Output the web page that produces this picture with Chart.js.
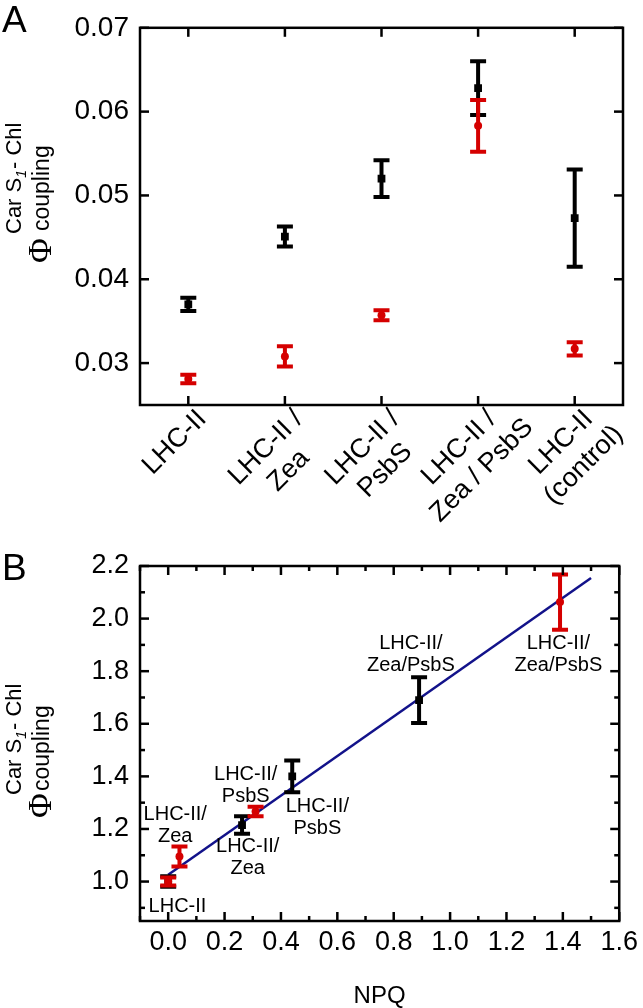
<!DOCTYPE html>
<html>
<head>
<meta charset="utf-8">
<script src="https://cdn.jsdelivr.net/npm/chart.js@4.4.1/dist/chart.umd.min.js"></script>
<style>
  html, body { margin:0; padding:0; background:#fff; }
  #wrap { position:relative; width:643px; height:1008px; }
  canvas { position:absolute; left:0; }
  #cA { top:0; }
  #cB { top:535px; }
</style>
</head>
<body>
<div id="wrap">
  <canvas id="cA" width="643" height="535"></canvas>
  <canvas id="cB" width="643" height="473"></canvas>
</div>
<script>
// ---- panel A data ----
const samplesA = [["LHC-II"], ["LHC-II /", "Zea"], ["LHC-II /", "PsbS"], ["LHC-II /", "Zea / PsbS"], ["LHC-II", "(control)"]];
const blackA    = [0.0370, 0.0451, 0.0520, 0.0628, 0.0473];
const blackAErr = [0.0008, 0.0012, 0.0022, 0.0032, 0.0058];
const redA      = [0.0281, 0.0308, 0.0357, 0.0583, 0.0317];
const redAErr   = [0.0005, 0.0012, 0.0006, 0.0031, 0.0008];

// ---- panel B data ----
const npqBlack    = [0.0, 0.262, 0.44, 0.89];
const phiBlack    = [1.0, 1.215, 1.40, 1.69];
const phiBlackErr = [0.02, 0.033, 0.06, 0.087];
const npqRed      = [0.0, 0.04, 0.31, 1.39];
const phiRed      = [1.0, 1.095, 1.266, 2.063];
const phiRedErr   = [0.015, 0.038, 0.018, 0.105];
const fitNpq = [0, 1.5];
const fitPhi = [1.026, 2.154];
const nameText = [["LHC-II"], ["LHC-II/", "Zea"], ["LHC-II/", "PsbS"], ["LHC-II/", "Zea"], ["LHC-II/", "PsbS"], ["LHC-II/", "Zea/PsbS"], ["LHC-II/", "Zea/PsbS"]];
const nameNpq  = [0.033, 0.025, 0.275, 0.282, 0.529, 0.861, 1.384];
const namePhi  = [0.905, 1.214, 1.366, 1.093, 1.245, 1.865, 1.865];

const FONT = '"Liberation Sans", Arial, sans-serif';
const RED = "#d50000";
const NAVY = "#12128a";

function errorBars(chart, idx){
  const ds = chart.data.datasets[idx];
  if(!ds.errors) return;
  const meta = chart.getDatasetMeta(idx);
  const ys = chart.scales.y;
  const ctx = chart.ctx;
  ctx.save();
  ctx.strokeStyle = ds.backgroundColor;
  ctx.lineWidth = 4;
  meta.data.forEach((pt, i) => {
    const d = ds.data[i];
    const v = typeof d === "number" ? d : d.y;
    const t = ys.getPixelForValue(v + ds.errors[i]);
    const b = ys.getPixelForValue(v - ds.errors[i]);
    ctx.beginPath();
    ctx.moveTo(pt.x, t); ctx.lineTo(pt.x, b);
    ctx.moveTo(pt.x - 8, t); ctx.lineTo(pt.x + 8, t);
    ctx.moveTo(pt.x - 8, b); ctx.lineTo(pt.x + 8, b);
    ctx.stroke();
  });
  ctx.restore();
}

function line(ctx, x1, y1, x2, y2){ ctx.beginPath(); ctx.moveTo(x1, y1); ctx.lineTo(x2, y2); ctx.stroke(); }

function frameAndTicks(chart, xCategory){
  const ctx = chart.ctx;
  const {left, right, top, bottom} = chart.chartArea;
  ctx.save();
  ctx.strokeStyle = "#000";
  ctx.lineWidth = 2.5;
  ctx.strokeRect(left, top, right - left, bottom - top);
  const ys = chart.scales.y, xs = chart.scales.x;
  ys.ticks.forEach((t, i) => {
    const y = ys.getPixelForTick(i);
    const len = t.label ? 9 : 5;
    line(ctx, left, y, left + len, y);
    line(ctx, right, y, right - len, y);
  });
  if(xCategory){
    chart.data.labels.forEach((l, i) => {
      const x = xs.getPixelForValue(i);
      line(ctx, x, bottom, x, bottom - 9);
      line(ctx, x, top, x, top + 9);
    });
  } else {
    xs.ticks.forEach((t, i) => {
      const x = xs.getPixelForTick(i);
      const len = t.label ? 9 : 5;
      line(ctx, x, bottom, x, bottom - len);
      line(ctx, x, top, x, top + len);
    });
  }
  ctx.restore();
}

function yTitle(ctx, o){
  ctx.save();
  ctx.fillStyle = "#000";
  ctx.rotate(-Math.PI / 2);
  ctx.textAlign = "left";
  ctx.textBaseline = "alphabetic";
  ctx.font = o.phiSize + 'px "Liberation Serif", "DejaVu Serif", serif';
  ctx.fillText("Φ", -o.phiY, o.phiBase);
  ctx.font = "22px " + FONT;
  let a = -o.supY;
  ctx.fillText("Car S", a, o.supBase);
  a += ctx.measureText("Car S").width;
  ctx.font = "italic 14px " + FONT;
  ctx.fillText("1", a, o.supBase + 5);
  a += ctx.measureText("1").width + 1;
  ctx.font = "22px " + FONT;
  ctx.fillText("- Chl", a, o.supBase);
  ctx.font = "23px " + FONT;
  ctx.fillText("coupling", -o.subY, o.subBase);
  ctx.restore();
}

const pluginA = {
  id: "panelA",
  beforeDatasetDraw(chart, args){ errorBars(chart, args.index); },
  afterDraw(chart){
    const ctx = chart.ctx;
    frameAndTicks(chart, true);
    const xs = chart.scales.x;
    const bottom = chart.chartArea.bottom;
    ctx.save();
    ctx.fillStyle = "#000";
    ctx.font = "27px " + FONT;
    chart.data.labels.forEach((lines, i) => {
      const x = xs.getPixelForValue(i);
      ctx.save();
      ctx.translate(x + 14, bottom + 10);
      ctx.rotate(-Math.PI / 4);
      const w0 = ctx.measureText(lines[0]).width;
      ctx.textAlign = "center";
      ctx.textBaseline = "middle";
      lines.forEach((s, k) => ctx.fillText(s, -w0 / 2, k * 32));
      ctx.restore();
    });
    ctx.font = "37px " + FONT;
    ctx.textAlign = "left";
    ctx.textBaseline = "alphabetic";
    ctx.fillText("A", 2, 32);
    ctx.restore();
    yTitle(ctx, {phiSize:34, phiY:263, phiBase:51, supY:234, supBase:21, subY:231, subBase:49});
  }
};

const pluginB = {
  id: "panelB",
  beforeDatasetDraw(chart, args){ errorBars(chart, args.index); },
  afterDraw(chart){
    const ctx = chart.ctx;
    frameAndTicks(chart, false);
    const xs = chart.scales.x, ys = chart.scales.y;
    ctx.save();
    ctx.fillStyle = "#000";
    ctx.font = "20px " + FONT;
    ctx.textAlign = "center";
    ctx.textBaseline = "middle";
    nameText.forEach((lines, i) => {
      const cx = xs.getPixelForValue(nameNpq[i]);
      const cy = ys.getPixelForValue(namePhi[i]);
      lines.forEach((s, k) => ctx.fillText(s, cx, cy + (k - (lines.length - 1) / 2) * 22));
    });
    const {left, right} = chart.chartArea;
    ctx.font = "24px " + FONT;
    ctx.textBaseline = "alphabetic";
    ctx.fillText("NPQ", (left + right) / 2, 468);
    ctx.font = "37px " + FONT;
    ctx.textAlign = "left";
    ctx.fillText("B", 2, 45);
    ctx.restore();
    yTitle(ctx, {phiSize:34, phiY:283, phiBase:51, supY:260, supBase:21, subY:256, subBase:49});
  }
};

new Chart(document.getElementById("cA"), {
  type: "line",
  data: {
    labels: samplesA,
    datasets: [
      {label:"black", data: blackA, errors: blackAErr, showLine:false, pointStyle:"rect", pointRadius:5.5, backgroundColor:"#000", borderColor:"#000", borderWidth:0, order:2},
      {label:"red", data: redA, errors: redAErr, showLine:false, pointStyle:"circle", pointRadius:4, backgroundColor:RED, borderColor:RED, borderWidth:0, order:1},
    ]
  },
  options: {
    responsive:false, animation:false, events:[],
    layout: { padding: { left:0, right:20, top:16, bottom:0 } },
    plugins: { legend:{ display:false }, tooltip:{ enabled:false } },
    scales: {
      x: { offset:true, grid:{ display:false, drawTicks:false }, border:{ display:false }, ticks:{ display:false },
           afterFit: s => { s.height = 130; } },
      y: { min:0.025, max:0.07, grid:{ display:false, drawTicks:false }, border:{ display:false },
           ticks:{ stepSize:0.01, includeBounds:false, color:"#000", padding:11, font:{ family:FONT, size:28 },
                   callback: v => v.toFixed(2) },
           afterFit: s => { s.width = 140; } }
    }
  },
  plugins: [pluginA]
});

new Chart(document.getElementById("cB"), {
  type: "scatter",
  data: {
    datasets: [
      {label:"fit", data: fitNpq.map((x, i) => ({x, y: fitPhi[i]})), showLine:true, pointRadius:0, borderColor:NAVY, borderWidth:2.5, order:3},
      {label:"black", data: npqBlack.map((x, i) => ({x, y: phiBlack[i]})), errors: phiBlackErr, pointStyle:"rect", pointRadius:5.5, backgroundColor:"#000", borderColor:"#000", borderWidth:0, order:2},
      {label:"red", data: npqRed.map((x, i) => ({x, y: phiRed[i]})), errors: phiRedErr, pointStyle:"circle", pointRadius:4, backgroundColor:RED, borderColor:RED, borderWidth:0, order:1},
    ]
  },
  options: {
    responsive:false, animation:false, events:[],
    layout: { padding: { left:0, right:22, top:31, bottom:0 } },
    plugins: { legend:{ display:false }, tooltip:{ enabled:false } },
    scales: {
      x: { type:"linear", min:-0.1, max:1.6, grid:{ display:false, drawTicks:false }, border:{ display:false },
           ticks:{ stepSize:0.1, includeBounds:false, autoSkip:false, maxRotation:0, minRotation:0, color:"#000", padding:5,
                   font:{ family:FONT, size:27 },
                   callback: v => Math.round(v * 10) % 2 === 0 ? v.toFixed(1) : "" },
           afterFit: s => { s.height = 87; } },
      y: { min:0.85, max:2.2, grid:{ display:false, drawTicks:false }, border:{ display:false },
           ticks:{ stepSize:0.1, includeBounds:false, autoSkip:false, color:"#000", padding:11,
                   font:{ family:FONT, size:27 },
                   callback: v => Math.round(v * 10) % 2 === 0 ? v.toFixed(1) : "" },
           afterFit: s => { s.width = 140; } }
    }
  },
  plugins: [pluginB]
});
</script>
</body>
</html>
